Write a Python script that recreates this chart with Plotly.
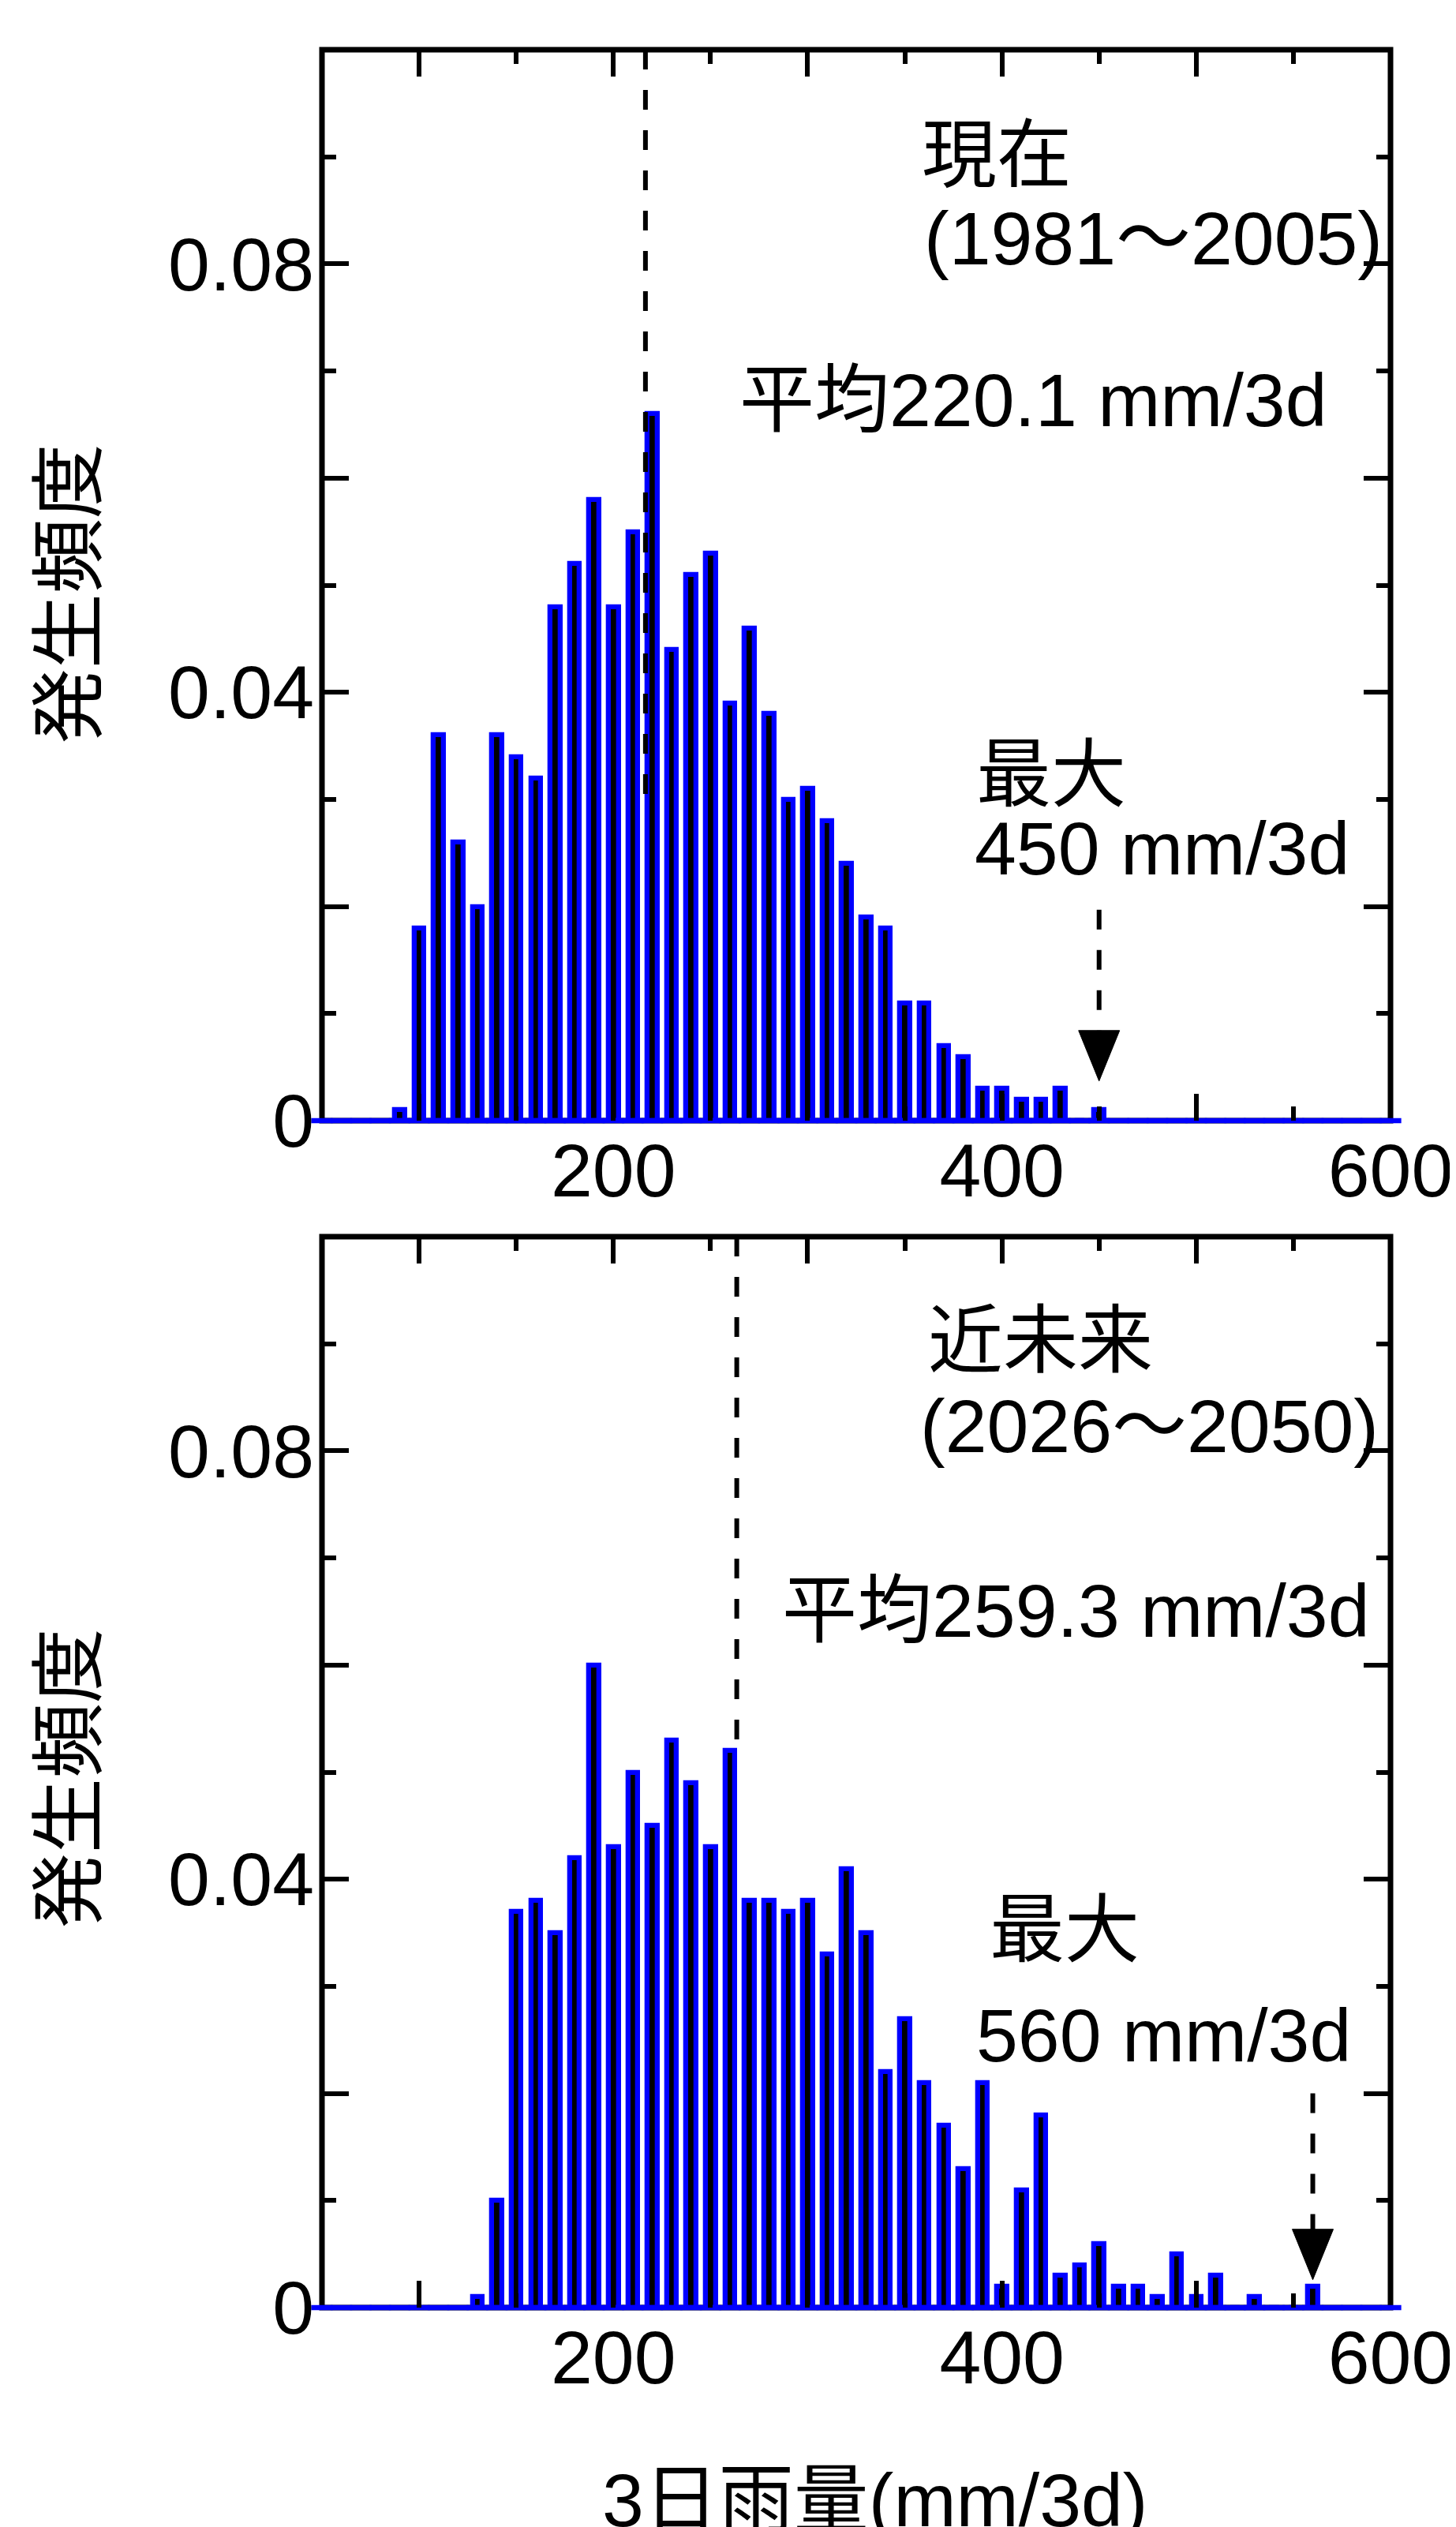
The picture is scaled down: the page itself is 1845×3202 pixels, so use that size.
import plotly.graph_objects as go

# ---------------- data ----------------
bins = list(range(50, 601, 10))

present_bins = [90, 100, 110, 120, 130, 140, 150, 160, 170, 180, 190, 200, 210, 220,
                230, 240, 250, 260, 270, 280, 290, 300, 310, 320, 330, 340, 350, 360,
                370, 380, 390, 400, 410, 420, 430, 440, 450]
present_freq = [0.001, 0.018, 0.036, 0.026, 0.020, 0.036, 0.034, 0.032, 0.048, 0.052,
                0.058, 0.048, 0.055, 0.066, 0.044, 0.051, 0.053, 0.039, 0.046, 0.038,
                0.030, 0.031, 0.028, 0.024, 0.019, 0.018, 0.011, 0.011, 0.007, 0.006,
                0.003, 0.003, 0.002, 0.002, 0.003, 0.0, 0.001]

future_bins = [130, 140, 150, 160, 170, 180, 190, 200, 210, 220, 230, 240, 250, 260,
               270, 280, 290, 300, 310, 320, 330, 340, 350, 360, 370, 380, 390, 400,
               410, 420, 430, 440, 450, 460, 470, 480, 490, 500, 510, 520, 530, 540,
               550, 560]
future_freq = [0.001, 0.010, 0.037, 0.038, 0.035, 0.042, 0.060, 0.043, 0.050, 0.045,
               0.053, 0.049, 0.043, 0.052, 0.038, 0.038, 0.037, 0.038, 0.033, 0.041,
               0.035, 0.022, 0.027, 0.021, 0.017, 0.013, 0.021, 0.002, 0.011, 0.018,
               0.003, 0.004, 0.006, 0.002, 0.002, 0.001, 0.005, 0.001, 0.003, 0.0,
               0.001, 0.0, 0.0, 0.002]

period_labels = ["現在", "近未来"]
period_years = ["(1981～2005)", "(2026～2050)"]
mean_labels = ["平均220.1 mm/3d", "平均259.3 mm/3d"]
mean_line_x = [216.5, 263.5]
mean_line_bottom = [0.030, 0.053]
max_values = [450, 560]
max_labels = ["450 mm/3d", "560 mm/3d"]

x_tickvals = [100, 200, 300, 400, 500, 600]
x_ticktext = ["", "200", "", "400", "", "600"]
y_tickvals = [0, 0.02, 0.04, 0.06, 0.08, 0.10]
y_ticktext = ["0", "", "0.04", "", "0.08", ""]

# ---------------- style ----------------
FONT = "Liberation Sans, Arial, Noto Sans CJK JP, sans-serif"
FS_TICK = 95
FS_TXT = 95
BLUE = "#0000FF"
W, H = 1845, 3202
L, R, T, B = 400, 82, 55, 286
plot_h = H - T - B
top_dom = [(H - B - 1412) / plot_h, 1.0]
bot_dom = [0.0, (H - B - 1559) / plot_h]

fig = go.Figure()

panels = [("x", "y", present_bins, present_freq), ("x2", "y2", future_bins, future_freq)]
for xa, ya, bx, fy in panels:
    fig.add_trace(go.Bar(
        x=bx, y=fy, xaxis=xa, yaxis=ya, width=5.1,
        marker=dict(color="black", line=dict(color=BLUE, width=6.3)),
        cliponaxis=False, showlegend=False, hoverinfo="skip"))
    fig.add_trace(go.Scatter(
        x=bins, y=[0] * len(bins), xaxis=xa, yaxis=ya, mode="markers",
        marker=dict(symbol="line-ew", size=19.5, color=BLUE,
                    line=dict(color=BLUE, width=6.5)),
        cliponaxis=False, showlegend=False, hoverinfo="skip"))

axis_common = dict(showgrid=False, zeroline=False, showline=False,
                   ticks="inside", mirror="allticks", tickwidth=6,
                   tickcolor="black", tickfont=dict(family=FONT, size=FS_TICK, color="black"))

xaxis_cfg = dict(axis_common, range=[50, 600], tickmode="array", tickvals=x_tickvals,
                 ticktext=x_ticktext, ticklen=34,
                 minor=dict(ticks="inside", tickmode="array", tickvals=[150, 250, 350, 450, 550],
                            ticklen=18, tickwidth=6, tickcolor="black"))
yaxis_cfg = dict(axis_common, range=[0, 0.1], tickmode="array", tickvals=y_tickvals,
                 ticktext=y_ticktext, ticklen=34, ticklabelstandoff=9,
                 minor=dict(ticks="inside", tickmode="array",
                            tickvals=[0.01, 0.03, 0.05, 0.07, 0.09],
                            ticklen=18, tickwidth=6, tickcolor="black"))

fig.update_layout(
    width=W, height=H,
    margin=dict(l=L, r=R, t=T, b=B, pad=0),
    paper_bgcolor="white", plot_bgcolor="white",
    bargap=0,
    xaxis=dict(xaxis_cfg, domain=[0, 1], anchor="y"),
    yaxis=dict(yaxis_cfg, domain=top_dom, anchor="x"),
    xaxis2=dict(xaxis_cfg, domain=[0, 1], anchor="y2"),
    yaxis2=dict(yaxis_cfg, domain=bot_dom, anchor="x2"),
    font=dict(family=FONT, size=FS_TICK, color="black"),
)

shapes = []
annotations = []
arrow_geo = [dict(start=0.0197, head=0.0037), dict(start=0.0200, head=0.0026)]
text_pos = [
    dict(per=(358.0, 0.0901), yrs=(359.0, 0.0824), mean=(264.0, 0.0673),
         mx=(386.0, 0.0323), mxv=(385.0, 0.0254)),
    dict(per=(361.0, 0.0903), yrs=(357.0, 0.0823), mean=(286.0, 0.0651),
         mx=(393.0, 0.0352), mxv=(386.0, 0.0254)),
]
for i, (xa, ya) in enumerate([("x", "y"), ("x2", "y2")]):
    # frame
    shapes.append(dict(type="rect", xref=f"{xa} domain", yref=f"{ya} domain",
                       x0=0, x1=1, y0=0, y1=1, line=dict(color="black", width=7),
                       layer="below"))
    # mean line
    shapes.append(dict(type="line", xref=xa, yref=ya, x0=mean_line_x[i], x1=mean_line_x[i],
                       y0=0.1, y1=mean_line_bottom[i],
                       line=dict(color="black", width=6, dash="25px,26px"), layer="above"))
    # max arrow shaft
    g = arrow_geo[i]
    shapes.append(dict(type="line", xref=xa, yref=ya, x0=max_values[i], x1=max_values[i],
                       y0=g["start"], y1=g["head"] + 60 / 13575,
                       line=dict(color="black", width=6, dash="25px,26px"), layer="above"))
    # arrow head (pixel-sized triangle anchored at tip)
    shapes.append(dict(type="path", xref=xa, yref=ya, xsizemode="pixel", ysizemode="pixel",
                       xanchor=max_values[i], yanchor=g["head"],
                       path="M-26,64 L26,64 L0,0 Z", fillcolor="black",
                       line=dict(color="black", width=1), layer="above"))
    tp = text_pos[i]
    for key, txt in [("per", period_labels[i]), ("yrs", period_years[i]),
                     ("mean", mean_labels[i]), ("mx", "最大"), ("mxv", max_labels[i])]:
        annotations.append(dict(xref=xa, yref=ya, x=tp[key][0], y=tp[key][1], text=txt,
                                showarrow=False, xanchor="left", yanchor="middle",
                                font=dict(family=FONT, size=FS_TXT, color="black")))

# y axis titles
for yc in [744, 2245]:
    annotations.append(dict(xref="paper", yref="paper", x=(78 - L) / (W - L - R),
                            y=(H - B - yc) / plot_h, text="発生頻度", textangle=-90,
                            showarrow=False, xanchor="center", yanchor="middle",
                            font=dict(family=FONT, size=FS_TXT, color="black")))
# x axis title
annotations.append(dict(xref="paper", yref="paper", x=(1105 - L) / (W - L - R),
                        y=(H - B - 3160) / plot_h, text="3日雨量(mm/3d)",
                        showarrow=False, xanchor="center", yanchor="middle",
                        font=dict(family=FONT, size=FS_TXT, color="black")))

fig.update_layout(shapes=shapes, annotations=annotations)
fig.write_html("out.html")
